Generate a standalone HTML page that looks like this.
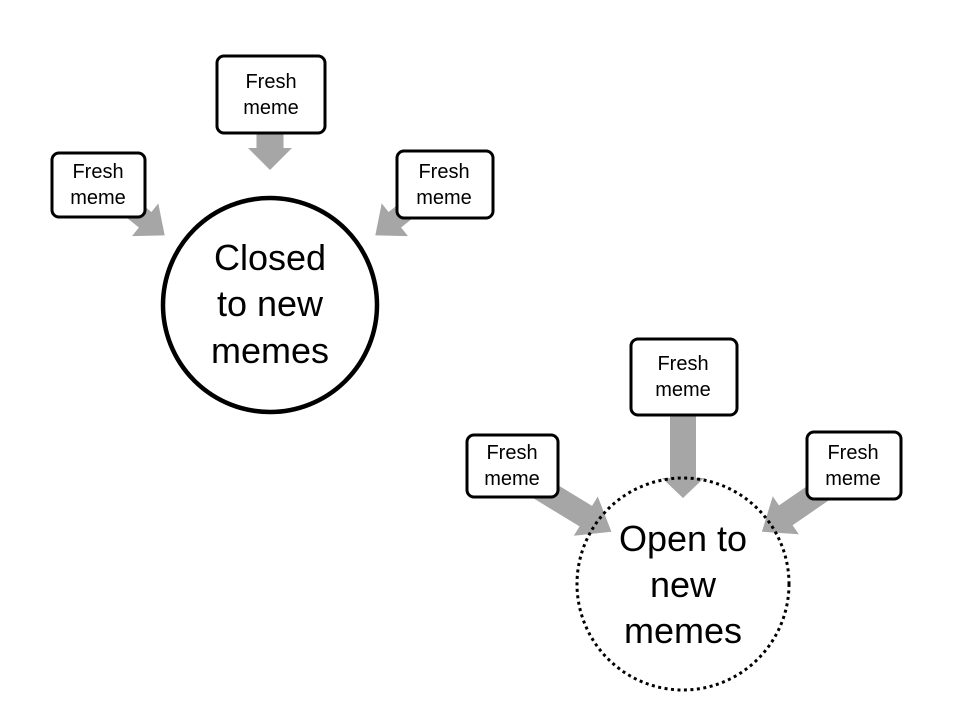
<!DOCTYPE html>
<html><head><meta charset="utf-8"><style>
html,body{margin:0;padding:0;background:#fff;}
svg{display:block;}
text{font-family:"Liberation Sans",sans-serif;fill:#000;text-anchor:middle;}
.b{font-size:20px;}
.c{font-size:36px;}
</style></head><body>
<svg width="960" height="720" viewBox="0 0 960 720">
<g fill="#a6a6a6">
 <g transform="translate(270,131) rotate(90)"><polygon points="0,-13.5 17,-13.5 17,-22 39,0 17,22 17,13.5 0,13.5"/></g>
 <g transform="translate(128,206) rotate(38.7)"><polygon points="0,-10 22,-10 22,-21 47,0 22,21 22,10 0,10"/></g>
 <g transform="translate(412,206) rotate(141.3)"><polygon points="0,-10 22,-10 22,-21 47,0 22,21 22,10 0,10"/></g>
 <g transform="translate(683,413) rotate(90)"><polygon points="0,-13 65,-13 65,-21 85,0 65,21 65,13 0,13"/></g>
 <g transform="translate(538,487) rotate(31.4)"><polygon points="0,-12 56,-12 56,-23 86,0 56,23 56,12 0,12"/></g>
 <g transform="translate(827,487) rotate(145.5)"><polygon points="0,-12 50,-12 50,-23 79,0 50,23 50,12 0,12"/></g>
</g>
<circle cx="270" cy="305" r="107" fill="none" stroke="#000" stroke-width="4.5"/>
<circle cx="683" cy="584" r="106" fill="none" stroke="#000" stroke-width="3" stroke-dasharray="3 3.5"/>
<text class="c" x="270" y="270">Closed</text>
<text class="c" x="270" y="316">to new</text>
<text class="c" x="270" y="363">memes</text>
<text class="c" x="683" y="551">Open to</text>
<text class="c" x="683" y="597">new</text>
<text class="c" x="683" y="643">memes</text>
<g fill="#fff" stroke="#000" stroke-width="3">
 <rect x="217" y="56" width="108" height="77" rx="7"/>
 <rect x="52" y="153" width="93" height="64" rx="7"/>
 <rect x="397" y="151" width="96" height="67" rx="7"/>
 <rect x="631" y="339" width="106" height="76" rx="7"/>
 <rect x="467" y="435" width="91" height="62" rx="7"/>
 <rect x="807" y="432" width="94" height="67" rx="7"/>
</g>
<text class="b" x="271" y="88">Fresh</text><text class="b" x="271" y="114">meme</text>
<text class="b" x="98" y="178">Fresh</text><text class="b" x="98" y="204">meme</text>
<text class="b" x="444" y="178">Fresh</text><text class="b" x="444" y="204">meme</text>
<text class="b" x="683" y="370">Fresh</text><text class="b" x="683" y="396">meme</text>
<text class="b" x="512" y="459">Fresh</text><text class="b" x="512" y="485">meme</text>
<text class="b" x="853" y="459">Fresh</text><text class="b" x="853" y="485">meme</text>
</svg>
</body></html>
